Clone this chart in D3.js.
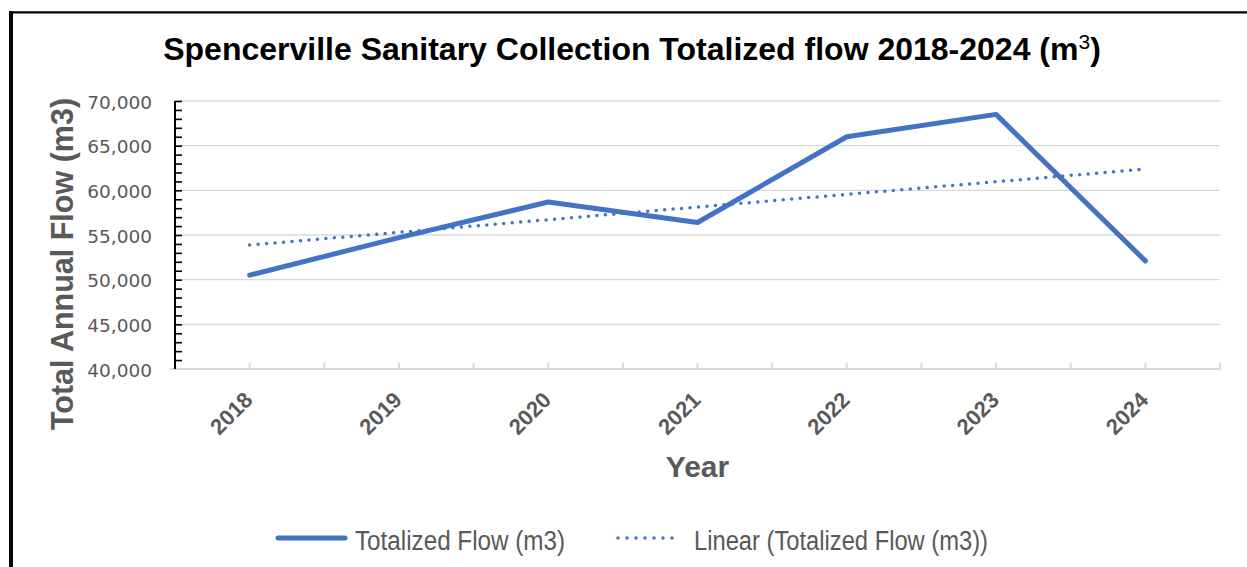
<!DOCTYPE html>
<html><head><meta charset="utf-8">
<script src="https://cdn.jsdelivr.net/npm/d3@7"></script>
<style>html,body{margin:0;padding:0;background:#fff;}svg{display:block;}</style>
</head><body>
<script>
const years = ["2018","2019","2020","2021","2022","2023","2024"];
const flows = [50500, 54700, 58700, 56400, 66000, 68500, 52100];
const yTicks = [40000, 45000, 50000, 55000, 60000, 65000, 70000];
const titleText = "Spencerville Sanitary Collection Totalized flow 2018-2024 (m";
const seriesName = "Totalized Flow (m3)";
const trendName = "Linear (Totalized Flow (m3))";

const W = 1247, H = 567;
const blue = "#4472C4", gray = "#595959", grid = "#D9D9D9";
const svg = d3.select("body").append("svg").attr("width", W).attr("height", H);

// frame
svg.append("line").attr("x1",11).attr("x2",11).attr("y1",11).attr("y2",H).attr("stroke","#000").attr("stroke-width",4);
svg.append("line").attr("x1",9).attr("x2",W).attr("y1",12.3).attr("y2",12.3).attr("stroke","#000").attr("stroke-width",2.2);

const x = d3.scaleBand().domain(years).range([175,1220]).padding(0);
const cx = d => x(d) + x.bandwidth()/2;
const y = d3.scaleLinear().domain([40000,70000]).range([369,101]);

// gridlines
svg.append("g").selectAll("line").data(yTicks.filter(t=>t>40000)).join("line")
  .attr("x1",175).attr("x2",1220).attr("y1",d=>y(d)).attr("y2",d=>y(d))
  .attr("stroke",grid).attr("stroke-width",1.4);

// x axis
svg.append("line").attr("x1",170).attr("x2",1220).attr("y1",y(40000)).attr("y2",y(40000))
  .attr("stroke",grid).attr("stroke-width",2);
const xt = [];
years.forEach(yr => { xt.push(cx(yr)); xt.push(x(yr)+x.bandwidth()); });
svg.append("g").selectAll("line").data(xt).join("line")
  .attr("x1",d=>d).attr("x2",d=>d).attr("y1",y(40000)).attr("y2",y(40000)-6)
  .attr("stroke",grid).attr("stroke-width",2);

// y axis (black with minor ticks)
const yAxis = d3.axisRight(y).tickValues(d3.range(40000,70001,1000)).tickSize(7).tickFormat("");
const gy = svg.append("g").attr("transform","translate(175,0)").call(yAxis);
gy.select(".domain").attr("stroke","#000").attr("stroke-width",2).attr("d","M0,"+y(70000)+"V"+y(40000));
gy.selectAll(".tick line").attr("stroke","#000").attr("stroke-width",1.6);
gy.selectAll(".tick").filter(d=>d===40000).select("line").remove();

// y tick labels
svg.append("g").selectAll("text").data(yTicks).join("text")
  .attr("x",152).attr("y",d=>y(d)+1).attr("text-anchor","end").attr("dominant-baseline","central")
  .attr("font-family","DejaVu Sans").attr("font-size",18.5).attr("fill",gray)
  .text(d=>d3.format(",")(d));

// x tick labels
svg.append("g").selectAll("text").data(years).join("text")
  .attr("transform",d=>`translate(${cx(d)-1},396) rotate(-45)`)
  .attr("text-anchor","end").attr("dominant-baseline","central")
  .attr("font-family","Liberation Sans, Arial").attr("font-weight","bold").attr("font-size",22).attr("fill",gray)
  .text(d=>d);

// trendline (least squares)
const n = flows.length, xs = d3.range(n);
const mx = d3.mean(xs), my = d3.mean(flows);
const slope = d3.sum(xs, i => (i-mx)*(flows[i]-my)) / d3.sum(xs, i => (i-mx)*(i-mx));
const icpt = my - slope*mx;
const trend = xs.map(i => icpt + slope*i);
svg.append("path").datum(trend)
  .attr("d", d3.line().x((d,i)=>cx(years[i])).y(d=>y(d)))
  .attr("fill","none").attr("stroke",blue).attr("stroke-width",3.5)
  .attr("stroke-linecap","round").attr("stroke-dasharray","0 8.5");

// main line
svg.append("path").datum(flows)
  .attr("d", d3.line().x((d,i)=>cx(years[i])).y(d=>y(d)))
  .attr("fill","none").attr("stroke",blue).attr("stroke-width",5)
  .attr("stroke-linejoin","round").attr("stroke-linecap","round");

// title
const t = svg.append("text").attr("x",632).attr("y",60).attr("text-anchor","middle")
  .attr("font-family","Liberation Sans, Arial").attr("font-weight","bold").attr("font-size",32).attr("fill","#000");
t.append("tspan").text(titleText);
t.append("tspan").attr("font-weight","normal").attr("font-size",21).attr("dy",-11).text("3");
t.append("tspan").attr("dy",11).text(")");

// axis titles
svg.append("text").attr("transform","translate(73,264) rotate(-90)").attr("text-anchor","middle")
  .attr("font-family","Liberation Sans, Arial").attr("font-weight","bold").attr("font-size",30.5).attr("fill",gray)
  .text("Total Annual Flow (m3)");
svg.append("text").attr("x",697.5).attr("y",477).attr("text-anchor","middle")
  .attr("font-family","Liberation Sans, Arial").attr("font-weight","bold").attr("font-size",30).attr("fill",gray)
  .text("Year");

// legend
const lg = svg.append("g");
lg.append("line").attr("x1",278).attr("x2",345).attr("y1",538).attr("y2",538)
  .attr("stroke",blue).attr("stroke-width",5).attr("stroke-linecap","round");
lg.append("text").attr("x",355).attr("y",550).attr("textLength",210).attr("lengthAdjust","spacingAndGlyphs")
  .attr("font-family","Liberation Sans, Arial").attr("font-size",27).attr("fill",gray).text(seriesName);
lg.append("line").attr("x1",618).attr("x2",681).attr("y1",538).attr("y2",538)
  .attr("stroke",blue).attr("stroke-width",3.5).attr("stroke-linecap","round").attr("stroke-dasharray","0 9");
lg.append("text").attr("x",694).attr("y",550).attr("textLength",294).attr("lengthAdjust","spacingAndGlyphs")
  .attr("font-family","Liberation Sans, Arial").attr("font-size",27).attr("fill",gray).text(trendName);
</script>
</body></html>
